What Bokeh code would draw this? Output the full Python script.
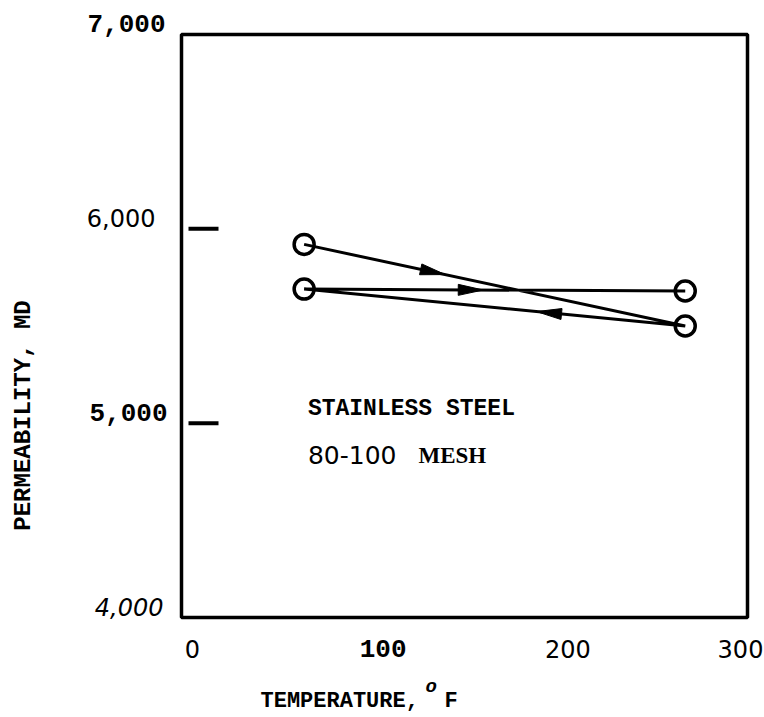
import math
from bokeh.plotting import figure
from bokeh.models import Label, Range1d
from bokeh.embed import file_html
from bokeh.resources import INLINE

# ---------------- data ----------------
temperature_f = [65, 267, 65, 267]          # heating -> cooling -> heating path
permeability_md = [5920, 5500, 5690, 5680]
x_ticks = [0, 100, 200, 300]
x_tick_labels = ["0", "100", "200", "300"]
y_ticks = [4000, 5000, 6000, 7000]
y_tick_labels = ["4,000", "5,000", "6,000", "7,000"]
y_inner_marks = [5000, 6000]
note_line1 = "STAINLESS STEEL"
note_line2a = "80-100"
note_line2b = "MESH"
x_title = "TEMPERATURE,"
x_title_sup = "o"
x_title_unit = "F"
y_title = "PERMEABILITY, MD"

# ---------------- styles ----------------
W, H = 764, 717
B_LEFT, B_RIGHT, B_TOP, B_BOTTOM = 181, 17, 34, 100
X0, X1 = 0, 300
Y0, Y1 = 4000, 7000
MONO = "Liberation Mono"
SANS = "DejaVu Sans"
SERIF = "Liberation Serif"

x_label_fonts = [(SANS, "normal"), (MONO, "bold"), (SANS, "normal"), (SANS, "normal")]
x_label_nudge = [11, 13, 9, -7]
y_label_fonts = [(SANS, "italic"), (MONO, "bold"), (SANS, "normal"), (MONO, "bold")]
y_label_nudge = [-18, -14, -26, -16]

frame_w = W - B_LEFT - B_RIGHT
frame_h = H - B_TOP - B_BOTTOM
sx = frame_w / (X1 - X0)     # px per degree
sy = frame_h / (Y1 - Y0)     # px per md

# the canvas is one big frame; the framed chart box is drawn as a quad
x_range = Range1d(X0 - B_LEFT / sx, X1 + B_RIGHT / sx)
y_range = Range1d(Y0 - B_BOTTOM / sy, Y1 + B_TOP / sy)

p = figure(width=W, height=H, x_range=x_range, y_range=y_range,
           x_axis_type=None, y_axis_type=None, toolbar_location=None,
           output_backend="svg", min_border=0)
p.outline_line_color = None
p.background_fill_color = "white"
p.border_fill_color = "white"

p.quad(left=[X0], right=[X1], bottom=[Y0], top=[Y1], fill_color=None,
       line_color="black", line_width=3.5)

# path and points
p.line(temperature_f, permeability_md, line_color="black", line_width=3)
p.scatter(temperature_f, permeability_md, marker="circle", size=20,
          fill_color=None, line_color="black", line_width=3.5)

# arrow heads along each leg (fraction of the leg where the tip sits)
tip_fraction = [0.37, 0.39, 0.47]
HEAD_LEN, HEAD_W = 25, 11
xs_tri, ys_tri = [], []
for i, f in enumerate(tip_fraction):
    xa, ya = temperature_f[i], permeability_md[i]
    xb, yb = temperature_f[i + 1], permeability_md[i + 1]
    dx, dy = (xb - xa) * sx, (yb - ya) * sy
    n = math.hypot(dx, dy)
    ux, uy = dx / n, dy / n
    px, py = -uy, ux
    tx, ty = xa + f * (xb - xa), ya + f * (yb - ya)
    bx, by = tx - HEAD_LEN * ux / sx, ty - HEAD_LEN * uy / sy
    xs_tri.append([tx, bx + HEAD_W / 2 * px / sx, bx - HEAD_W / 2 * px / sx])
    ys_tri.append([ty, by + HEAD_W / 2 * py / sy, by - HEAD_W / 2 * py / sy])
p.patches(xs_tri, ys_tri, fill_color="black", line_color="black", line_width=1)

# short inner tick dashes on the left
dash_center = X0 + (7 + 15) / sx
p.scatter([dash_center] * len(y_inner_marks), y_inner_marks, marker="dash",
          size=30, line_color="black", line_width=4)

# tick labels
for v, t, (fnt, sty), nud in zip(x_ticks, x_tick_labels, x_label_fonts, x_label_nudge):
    p.add_layout(Label(x=v, y=Y0, text=t, x_offset=nud, y_offset=-22,
                       text_align="center", text_baseline="top",
                       text_font=fnt, text_font_style=sty,
                       text_font_size="24px" if fnt == SANS else "26px",
                       text_color="black"))
for v, t, (fnt, sty), nud in zip(y_ticks, y_tick_labels, y_label_fonts, y_label_nudge):
    p.add_layout(Label(x=X0, y=v, text=t, x_offset=nud, y_offset=11,
                       text_align="right", text_baseline="middle",
                       text_font=fnt, text_font_style=sty,
                       text_font_size="24px" if fnt == SANS else "26px",
                       text_color="black"))

# axis titles
p.add_layout(Label(x=X0, y=Y0, x_offset=79, y_offset=-84, text=x_title,
                   text_align="left", text_baseline="middle", text_color="black",
                   text_font=MONO, text_font_style="bold", text_font_size="22px"))
p.add_layout(Label(x=X0, y=Y0, x_offset=244, y_offset=-69, text=x_title_sup,
                   text_align="left", text_baseline="middle", text_color="black",
                   text_font=MONO, text_font_style="bold italic", text_font_size="19px"))
p.add_layout(Label(x=X0, y=Y0, x_offset=263, y_offset=-84, text=x_title_unit,
                   text_align="left", text_baseline="middle", text_color="black",
                   text_font=MONO, text_font_style="bold", text_font_size="22px"))
p.add_layout(Label(x=X0, y=Y0, x_offset=-158, y_offset=202, text=y_title,
                   angle=math.pi / 2, text_align="center", text_baseline="middle",
                   text_color="black",
                   text_font=MONO, text_font_style="bold", text_font_size="24px"))

# in-plot note
p.add_layout(Label(x=67, y=5075, text=note_line1, text_align="left",
                   text_baseline="middle", text_font=MONO, text_font_style="bold",
                   text_font_size="23px", text_color="black"))
p.add_layout(Label(x=67, y=4835, text=note_line2a, text_align="left",
                   text_baseline="middle", text_font=SANS, text_font_size="25px",
                   text_color="black"))
p.add_layout(Label(x=125.6, y=4835, text=note_line2b, text_align="left",
                   text_baseline="middle", text_font=SERIF, text_font_style="bold",
                   text_font_size="23px", text_color="black"))

open("out.html", "w").write(file_html(p, INLINE))
